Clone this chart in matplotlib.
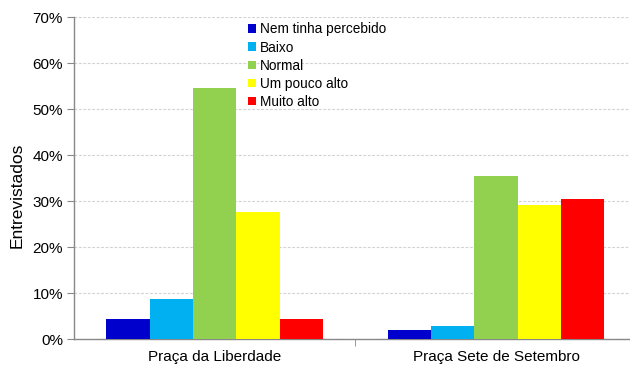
import matplotlib.pyplot as plt
import numpy as np

plt.rcParams['font.family'] = ['Liberation Sans', 'DejaVu Sans']

# data
locais = ["Praça da Liberdade", "Praça Sete de Setembro"]
respostas = ["Nem tinha percebido", "Baixo", "Normal", "Um pouco alto", "Muito alto"]
cores = ["#0000CC", "#00B0F0", "#92D050", "#FFFF00", "#FF0000"]
liberdade = [4.4, 8.7, 54.5, 27.6, 4.4]
setembro = [1.9, 2.8, 35.4, 29.1, 30.4]
valores = np.array([liberdade, setembro])

# plotting
fig = plt.figure(figsize=(6.3, 3.65), dpi=100)
ax = fig.add_axes([0.1175, 0.0712, 0.893, 0.8822])

x = np.arange(len(locais))
w = 0.154
for i in range(len(respostas)):
    ax.bar(x + (i - 2) * w, valores[:, i], w, color=cores[i], label=respostas[i], zorder=3)

ax.set_xlim(-0.5, 1.5)
ax.set_ylim(0, 70)
ax.set_yticks(np.arange(0, 71, 10))
ax.set_yticklabels([f"{v}%" for v in range(0, 71, 10)], fontsize=11)
ax.set_xticks(x)
ax.set_xticklabels(locais, fontsize=11)
ax.tick_params(axis='x', length=0, pad=8)
ax.set_xticks([0.5], minor=True)
ax.tick_params(axis='x', which='minor', length=5, direction='out', color='#888888')
ax.tick_params(axis='y', length=5, direction='out', color='#888888', pad=3)
ax.set_ylabel("Entrevistados", fontsize=12.5)
ax.yaxis.set_label_coords(-0.087, 0.447)

ax.grid(axis='y', color='#D2D2D2', linestyle=(0, (2.5, 1.5)), linewidth=0.8, zorder=0)
for s in ['top', 'right']:
    ax.spines[s].set_visible(False)
for s in ['left', 'bottom']:
    ax.spines[s].set_color('#888888')
    ax.spines[s].set_linewidth(1.0)

ax.legend(loc='upper left', bbox_to_anchor=(0.3, 1.0), frameon=False, fontsize=9.8,
          handlelength=0.6, handleheight=0.6, handletextpad=0.25, labelspacing=0.3,
          borderaxespad=0)

plt.savefig("out.png", dpi=100)
